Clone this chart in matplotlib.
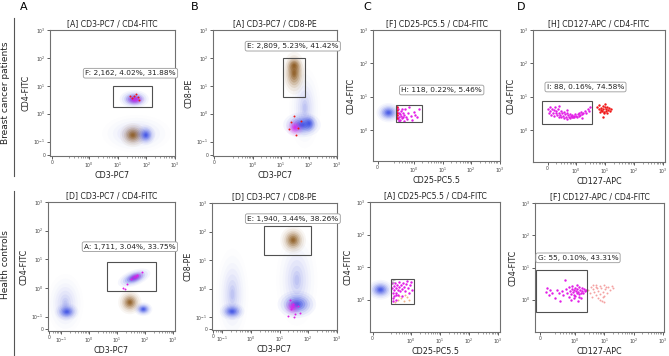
import numpy as np
import matplotlib.pyplot as plt
from matplotlib.patches import Ellipse, Rectangle

# ---------------- data (decade units of the cytometer display, 10^0 at 0) ----------------
titles = ['[A] CD3-PC7 / CD4-FITC', '[A] CD3-PC7 / CD8-PE',
          '[F] CD25-PC5.5 / CD4-FITC', '[H] CD127-APC / CD4-FITC',
          '[D] CD3-PC7 / CD4-FITC', '[D] CD3-PC7 / CD8-PE',
          '[A] CD25-PC5.5 / CD4-FITC', '[F] CD127-APC / CD4-FITC']
xlabels = ['CD3-PC7', 'CD3-PC7', 'CD25-PC5.5', 'CD127-APC'] * 2
ylabels = ['CD4-FITC', 'CD8-PE', 'CD4-FITC', 'CD4-FITC'] * 2
panel_letters = ['A', 'B', 'C', 'D']
row_labels = ['Breast cancer patients', 'Health controls']

gate_names = ['F', 'E', 'H', 'I', 'A', 'E', 'F', 'G']
gate_events = ['2,162', '2,809', '118', '88', '1,711', '1,940', None, '55']
gate_pct_total = ['4.02%', '5.23%', '0.22%', '0.16%', '3.04%', '3.44%', None, '0.10%']
gate_pct_parent = ['31.88%', '41.42%', '5.46%', '74.58%', '33.75%', '38.26%', None, '43.31%']
# gate rectangles x0, x1, y0, y1
gates = [(0.83, 2.19, 0.24, 0.99), (1.06, 1.86, 0.59, 2.0),
         (-0.63, 0.29, 0.25, 0.75), (-1.18, 0.56, 0.18, 0.87),
         (0.64, 2.4, -0.12, 0.9), (0.47, 2.1, 1.17, 2.18),
         (-0.69, 0.1, -0.13, 0.64), (-1.34, 0.4, -0.39, 0.91)]

# dense populations: cx, cy, sx, sy, angle, colour key
clusters = [
    [(1.65, -0.72, 0.75, 0.42, 0, 'halo'), (1.52, -0.77, 0.28, 0.27, 0, 'brown'),
     (1.98, -0.77, 0.2, 0.22, 0, 'blue'), (1.57, 0.52, 0.32, 0.2, 0, 'blue'),
     (1.6, 0.5, 0.22, 0.13, 0, 'magenta')],
    [(1.85, 0.2, 0.35, 0.9, 0, 'halo'), (1.47, 1.45, 0.26, 0.48, 0, 'brown'),
     (1.47, 1.72, 0.18, 0.2, 0, 'brown'), (1.75, -0.4, 0.42, 0.28, 0, 'blue'),
     (2.0, -0.35, 0.17, 0.2, 0, 'blue'), (1.5, -0.5, 0.2, 0.2, 0, 'magenta')],
    [(-0.88, 0.52, 0.26, 0.18, 0, 'blue')],
    [],
    [(-0.85, -0.55, 0.4, 0.65, 0, 'halo'), (1.6, 0.35, 0.38, 0.17, 20, 'blue'),
     (1.65, 0.38, 0.2, 0.1, 20, 'magenta'), (1.45, -0.5, 0.26, 0.26, 0, 'brown'),
     (1.93, -0.74, 0.2, 0.15, 0, 'blue'), (-0.8, -0.83, 0.26, 0.19, 0, 'blue')],
    [(-0.65, -0.2, 0.35, 1.0, 0, 'halo'), (1.6, 0.3, 0.45, 1.0, 0, 'halo'),
     (1.47, 1.7, 0.28, 0.3, 0, 'brown'), (1.6, -0.55, 0.42, 0.3, 0, 'blue'),
     (1.45, -0.65, 0.18, 0.18, 0, 'magenta'), (-0.66, -0.8, 0.27, 0.19, 0, 'blue')],
    [(-1.05, 0.3, 0.27, 0.19, 0, 'blue')],
    [],
]

# sparse gated events: (x, y) lists per panel and colour
top_a_red = [(1.55, 0.62), (1.7, 0.58), (1.62, 0.7), (1.48, 0.55), (1.75, 0.5), (1.42, 0.62)]
top_b_red = [(1.35, -0.3), (1.45, -0.1), (1.6, -0.5), (1.55, -0.75), (1.3, -0.55), (1.7, -0.25)]
bot_a_mag = [(1.2, 0.0), (1.35, 0.15), (1.5, 0.3), (1.7, 0.45), (1.9, 0.55), (1.28, -0.05)]
bot_b_mag = [(1.4, -0.7), (1.55, -0.9), (1.35, -0.4), (1.65, -0.6), (1.5, -1.0),
             (1.45, -0.55), (1.7, -0.85), (1.3, -0.95)]

top_c_mag = [(-0.6, 0.55), (-0.58, 0.45), (-0.55, 0.62), (-0.52, 0.38), (-0.5, 0.5),
             (-0.48, 0.3), (-0.45, 0.58), (-0.43, 0.42), (-0.4, 0.35), (-0.38, 0.52),
             (-0.35, 0.28), (-0.33, 0.45), (-0.3, 0.62), (-0.28, 0.4), (-0.25, 0.32),
             (-0.2, 0.5), (-0.15, 0.68), (-0.1, 0.42), (-0.05, 0.3), (0.0, 0.55),
             (0.05, 0.45), (0.12, 0.4), (0.18, 0.62), (-0.58, 0.68), (-0.55, 0.33),
             (-0.47, 0.48), (-0.42, 0.64), (-0.36, 0.38), (-0.6, 0.4), (-0.5, 0.27)]
top_c_red = [(-0.6, 0.7), (-0.58, 0.6), (-0.6, 0.5), (-0.57, 0.35), (-0.59, 0.45)]

top_d_mag = [(-0.95, 0.62), (-0.92, 0.5), (-0.9, 0.7), (-0.88, 0.56), (-0.85, 0.45),
             (-0.82, 0.64), (-0.8, 0.52), (-0.77, 0.6), (-0.74, 0.42), (-0.72, 0.68),
             (-0.7, 0.5), (-0.67, 0.56), (-0.64, 0.46), (-0.62, 0.62), (-0.6, 0.4),
             (-0.57, 0.52), (-0.55, 0.45), (-0.52, 0.58), (-0.5, 0.38), (-0.47, 0.5),
             (-0.45, 0.43), (-0.42, 0.55), (-0.4, 0.36), (-0.37, 0.47), (-0.35, 0.4),
             (-0.32, 0.52), (-0.3, 0.34), (-0.27, 0.44), (-0.25, 0.38), (-0.22, 0.48),
             (-0.2, 0.36), (-0.17, 0.42), (-0.15, 0.4), (-0.12, 0.46), (-0.1, 0.38),
             (-0.07, 0.43), (-0.05, 0.4), (-0.02, 0.47), (0.0, 0.42), (0.03, 0.38),
             (0.06, 0.48), (0.09, 0.43), (0.12, 0.52), (0.15, 0.45), (0.18, 0.55),
             (0.21, 0.48), (0.25, 0.5), (0.3, 0.58), (0.35, 0.52), (0.4, 0.62),
             (0.45, 0.56), (0.48, 0.68), (-0.6, 0.72), (-0.3, 0.6), (0.2, 0.35)]
top_d_red = [(0.72, 0.7), (0.78, 0.62), (0.8, 0.76), (0.84, 0.55), (0.87, 0.66),
             (0.9, 0.58), (0.92, 0.72), (0.95, 0.62), (0.97, 0.5), (0.99, 0.68),
             (1.02, 0.58), (1.04, 0.64), (1.06, 0.52), (1.08, 0.7), (1.1, 0.6),
             (1.13, 0.66), (1.16, 0.56), (1.2, 0.62), (0.93, 0.4), (1.0, 0.78),
             (0.86, 0.6), (0.96, 0.55)]

bot_c_mag = [(-0.66, 0.5), (-0.64, 0.35), (-0.63, 0.2), (-0.62, 0.05), (-0.6, 0.42),
             (-0.58, 0.28), (-0.57, 0.12), (-0.55, 0.5), (-0.53, 0.36), (-0.52, 0.2),
             (-0.5, 0.0), (-0.48, 0.44), (-0.46, 0.3), (-0.44, 0.15), (-0.42, 0.55),
             (-0.4, 0.38), (-0.37, 0.25), (-0.35, 0.46), (-0.32, 0.33), (-0.3, 0.1),
             (-0.27, 0.52), (-0.25, 0.4), (-0.2, 0.27), (-0.17, 0.48), (-0.12, 0.58),
             (-0.1, 0.35), (-0.06, 0.2), (-0.03, 0.45), (0.02, 0.55), (0.05, 0.3),
             (-0.62, -0.05), (-0.5, 0.15)]
bot_c_pale = [(-0.55, -0.08), (-0.45, -0.02), (-0.35, 0.05), (-0.25, -0.05),
              (-0.15, 0.08), (-0.05, 0.0), (-0.4, 0.12), (-0.2, 0.15)]

bot_d_mag = [(-1.0, 0.25), (-0.95, 0.35), (-0.9, 0.15), (-0.85, 0.3), (-0.78, 0.22),
             (-0.7, 0.05), (-0.62, 0.3), (-0.55, 0.22), (-0.5, -0.05), (-0.45, 0.28),
             (-0.4, 0.15), (-0.35, 0.6), (-0.3, 0.32), (-0.27, 0.2), (-0.22, 0.1),
             (-0.2, 0.38), (-0.17, 0.27), (-0.15, 0.18), (-0.12, 0.32), (-0.1, 0.42),
             (-0.08, 0.23), (-0.05, 0.3), (-0.03, 0.15), (0.0, 0.36), (0.02, 0.27),
             (0.05, 0.2), (0.07, 0.33), (0.1, 0.25), (0.12, 0.4), (0.14, 0.17),
             (0.17, 0.3), (0.2, 0.22), (0.22, 0.35), (0.25, 0.28), (0.28, 0.2),
             (0.3, 0.32), (0.33, 0.26), (0.36, 0.3), (-0.05, 0.05), (0.1, -0.05),
             (0.2, 0.05), (-0.15, -0.02), (0.05, 0.45), (0.15, 0.1), (0.0, 0.12)]
bot_d_pink = [(0.45, 0.3), (0.5, 0.2), (0.55, 0.4), (0.58, 0.1), (0.62, 0.32),
              (0.66, 0.25), (0.7, 0.45), (0.72, 0.15), (0.75, 0.35), (0.78, 0.05),
              (0.8, 0.28), (0.84, 0.42), (0.86, 0.18), (0.9, 0.35), (0.92, -0.05),
              (0.95, 0.25), (0.98, 0.45), (1.0, 0.12), (1.03, 0.32), (1.06, 0.4),
              (1.1, 0.2), (1.13, 0.38), (1.18, 0.3), (1.25, 0.42), (1.3, 0.35),
              (0.85, 0.0), (0.95, 0.08), (1.0, -0.08), (0.7, 0.38), (0.6, 0.45)]

events = [
    [(top_a_red, 'red', 2)],
    [(top_b_red, 'red', 2)],
    [(top_c_mag, 'magenta', 3), (top_c_red, 'red', 3)],
    [(top_d_mag, 'magenta', 3), (top_d_red, 'red', 3)],
    [(bot_a_mag, 'magenta', 2)],
    [(bot_b_mag, 'magenta', 2)],
    [(bot_c_pale, 'pale', 2), (bot_c_mag, 'magenta', 3)],
    [(bot_d_pink, 'pink', 2), (bot_d_mag, 'magenta', 3)],
]

# ---------------- layout ----------------
W, H = 669, 356
# axes box in pixels: left, top, right, bottom
rects = [(50, 30, 175, 156), (213, 30, 337, 156), (373, 30, 500, 161), (533, 30, 665, 162),
         (48, 202, 175, 331), (212, 203, 337, 330), (370, 202, 500, 332), (535, 203, 664, 332)]
xlims = [(-1.38, 3.0), (-1.43, 3.0), (-1.42, 2.95), (-1.48, 3.07),
         (-1.47, 3.06), (-1.36, 3.0), (-1.41, 3.07), (-1.37, 3.04)]
ylims = [(-1.52, 3.0), (-1.52, 3.0), (-0.93, 3.0), (-0.96, 3.0),
         (-1.5, 3.0), (-1.45, 3.0), (-1.0, 3.0), (-1.0, 3.0)]
xzero = [-1.3, -1.38, -1.26, -0.98, -1.43, -1.32, -1.32, -1.19]
yzero = [-1.47, -1.47, None, None, -1.44, -1.43, None, None]
xminus1 = [False, False, False, False, True, True, False, False]
label_pos = [(1.44, 1.45), (1.42, 2.42), (0.97, 1.2), (0.33, 1.29),
             (1.45, 1.44), (1.46, 2.45), None, (0.1, 1.3)]

colours = {'blue': '#3f52e6', 'halo': '#8a94ee', 'brown': '#8e5c22',
           'magenta': '#e21ee6', 'red': '#f01818', 'pale': '#f2b48a', 'pink': '#f4a2a2'}
blob_alpha = {'blue': 1.0, 'halo': 0.35, 'brown': 1.0, 'magenta': 0.85}
rings = [(1.6, 0.05), (1.35, 0.08), (1.1, 0.12), (0.9, 0.18), (0.7, 0.25),
         (0.5, 0.35), (0.32, 0.45), (0.18, 0.5)]


def blob(ax, cx, cy, sx, sy, ang, key):
    for s, a in rings:
        ax.add_patch(Ellipse((cx, cy), 2 * sx * s, 2 * sy * s, angle=ang,
                             color=colours[key], alpha=a * blob_alpha[key], lw=0))


def pow_label(p):
    return r'$10^{%d}$' % p


fig = plt.figure(figsize=(W / 100, H / 100), dpi=100)
fig.patch.set_facecolor('white')

for i in range(8):
    l, t, r, b = rects[i]
    ax = fig.add_axes([l / W, 1 - b / H, (r - l) / W, (b - t) / H])
    ax.set_xlim(*xlims[i])
    ax.set_ylim(*ylims[i])
    for sp in ax.spines.values():
        sp.set_color('#707070')
        sp.set_linewidth(0.8)

    for c in clusters[i]:
        blob(ax, *c)
    for pts, key, size in events[i]:
        xs = [p[0] for p in pts]
        ys = [p[1] for p in pts]
        ax.scatter(xs, ys, s=size, color=colours[key], lw=0, zorder=3)

    x0, x1, y0, y1 = gates[i]
    ax.add_patch(Rectangle((x0, y0), x1 - x0, y1 - y0, fill=False,
                           ec='#505050', lw=0.8, zorder=4))
    if label_pos[i] is not None:
        txt = '%s: %s, %s, %s' % (gate_names[i], gate_events[i],
                                  gate_pct_total[i], gate_pct_parent[i])
        ax.text(label_pos[i][0], label_pos[i][1], txt, ha='center', va='center',
                fontsize=5.3, color='#222222', zorder=5, clip_on=False,
                bbox=dict(boxstyle='round,pad=0.25', fc='white', ec='#9a9a9a', lw=0.6))
    else:
        ax.text(x0 + 0.03, y1 - 0.03, gate_names[i], ha='left', va='top',
                fontsize=5, color='#9a9a9a', zorder=5)

    # ticks
    xt = [xzero[i]]
    xl = ['0']
    if xminus1[i]:
        xt.append(-1)
        xl.append(pow_label(-1))
    for p in range(0, 4):
        xt.append(p)
        xl.append(pow_label(p))
    ax.set_xticks(xt)
    ax.set_xticklabels(xl)
    if yzero[i] is not None:
        yt = [yzero[i], -1, 0, 1, 2, 3]
        yl = ['0'] + [pow_label(p) for p in range(-1, 4)]
    else:
        yt = [0, 1, 2, 3]
        yl = [pow_label(p) for p in range(0, 4)]
    ax.set_yticks(yt)
    ax.set_yticklabels(yl)
    lo = -1 if xminus1[i] else 0
    minors = [d + np.log10(k) for d in range(lo - 1, 3) for k in range(2, 10)]
    ax.set_xticks([m for m in minors if xzero[i] + 0.05 < m < xlims[i][1]], minor=True)
    ax.tick_params(which='major', length=2, width=0.6, labelsize=3.3,
                   pad=1.2, colors='#444444')
    ax.tick_params(which='minor', length=1.2, width=0.4, colors='#555555')

    ax.set_title(titles[i], fontsize=5.6, pad=2.5, color='#222222')
    ax.set_xlabel(xlabels[i], fontsize=5.8, labelpad=1, color='#222222')
    ax.set_ylabel(ylabels[i], fontsize=5.8, labelpad=2, color='#222222')

# panel letters
for lx, letter in zip([24, 195, 367, 521], panel_letters):
    fig.text(lx / W, 1 - 7 / H, letter, fontsize=8, ha='center', va='center')

# row labels and separator lines
for (yc, y_top, y_bot), lab in zip([(93, 18, 176), (265, 191, 355)], row_labels):
    fig.text(6 / W, 1 - yc / H, lab, rotation=90, fontsize=6.5,
             ha='center', va='center', color='#222222')
    fig.add_artist(plt.Line2D([14 / W, 14 / W], [1 - y_top / H, 1 - y_bot / H],
                              color='#555555', lw=0.8))

fig.savefig('out.png', dpi=100, facecolor='white')
